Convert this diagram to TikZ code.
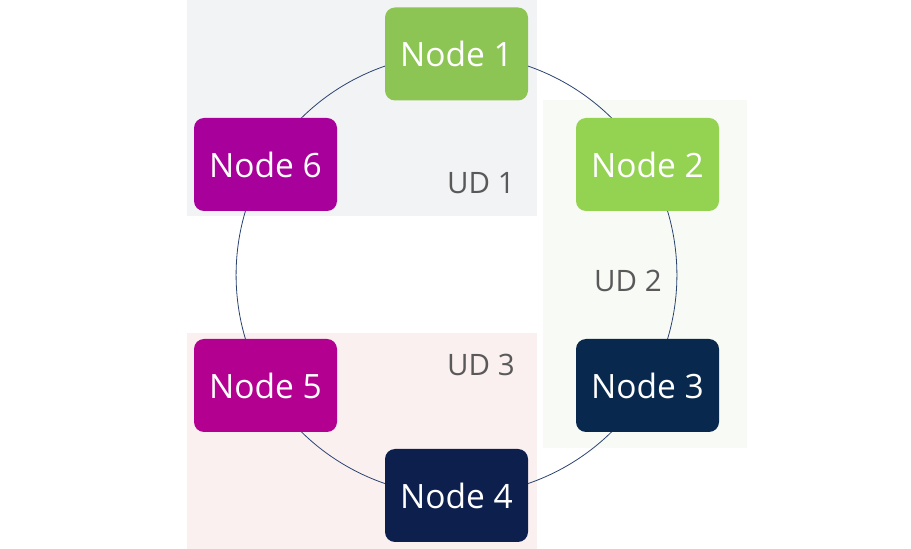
\documentclass[tikz,border=0pt]{standalone}
\usepackage{fontspec}
\setmainfont{Open Sans}
\usetikzlibrary{backgrounds}
\definecolor{gA}{HTML}{8CC553}
\definecolor{gB}{HTML}{94D251}
\definecolor{mA}{HTML}{A8009A}
\definecolor{mB}{HTML}{B40090}
\definecolor{nA}{HTML}{08294D}
\definecolor{nB}{HTML}{0C1F4D}
\definecolor{bgA}{HTML}{F2F3F5}
\definecolor{bgB}{HTML}{F8FAF5}
\definecolor{bgC}{HTML}{FBF0F0}
\definecolor{udtxt}{HTML}{595959}
\definecolor{ring}{HTML}{2A4270}
\tikzset{
  nodebox/.style={rounded corners=10pt, minimum width=143pt, minimum height=93pt, inner sep=0pt,
    text=white, font=\fontsize{33.5}{36}\selectfont},
  udlabel/.style={text=udtxt, font=\fontsize{29.5}{32}\selectfont, inner sep=0pt},
  ringline/.style={draw=ring, line width=0.8pt, bend left=30, looseness=0.91},
}
\begin{document}
\begin{tikzpicture}[x=1pt,y=1pt]
\useasboundingbox (0,0) rectangle (911,549);
\node[nodebox, fill=gA] (n1) at (456.5,495) {Node 1};
\node[nodebox, fill=gB] (n2) at (647.5,384.5) {Node 2};
\node[nodebox, fill=nA] (n3) at (647.5,163.5) {Node 3};
\node[nodebox, fill=nB] (n4) at (456.5,53.5) {Node 4};
\node[nodebox, fill=mB] (n5) at (265.5,163.5) {Node 5};
\node[nodebox, fill=mA] (n6) at (265.5,384.5) {Node 6};
\node[udlabel] (ud1) at (481,366) {UD 1};
\node[udlabel] (ud2) at (628,268) {UD 2};
\node[udlabel] (ud3) at (481,184) {UD 3};
\begin{pgfonlayer}{background}
\fill[bgA] (187,333) rectangle (537,549);
\fill[bgB] (543,101) rectangle (747,449);
\fill[bgC] (187,0) rectangle (537,216);
\draw[ringline] (n1.center) to (n2.center);
\draw[ringline] (n2.center) to (n3.center);
\draw[ringline] (n3.center) to (n4.center);
\draw[ringline] (n4.center) to (n5.center);
\draw[ringline] (n5.center) to (n6.center);
\draw[ringline] (n6.center) to (n1.center);
\end{pgfonlayer}
\end{tikzpicture}
\end{document}
